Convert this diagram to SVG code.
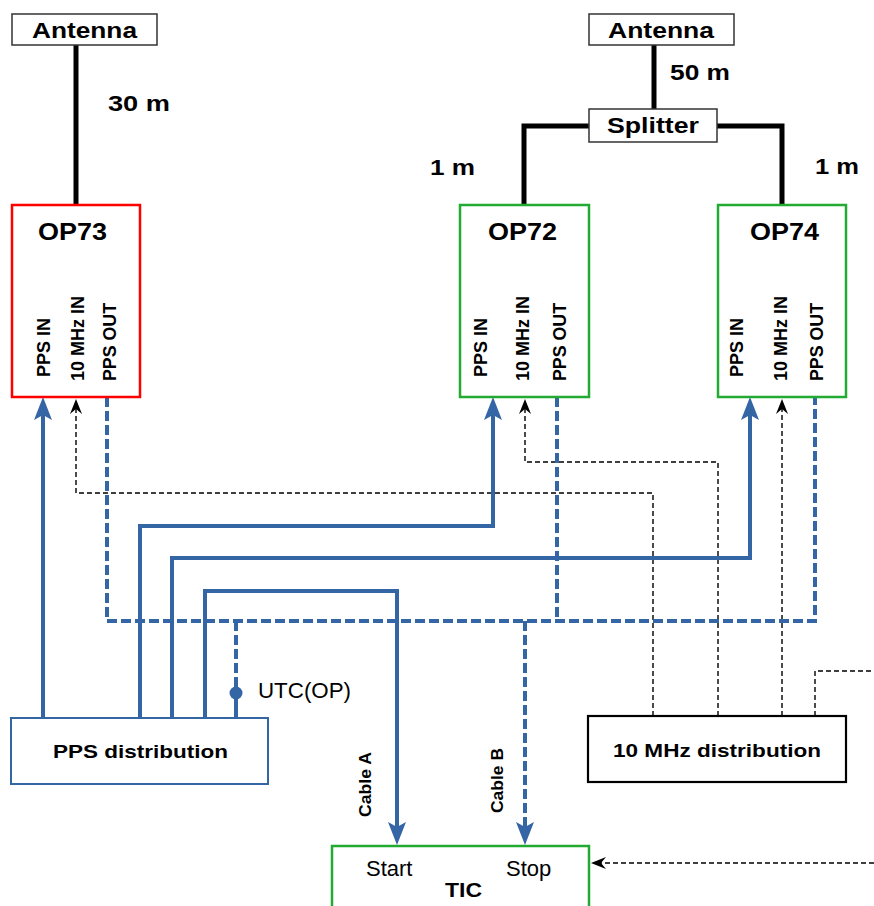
<svg xmlns="http://www.w3.org/2000/svg" width="874" height="906" viewBox="0 0 874 906">
<defs>
<style>
.t{font-family:"Liberation Sans",Arial,sans-serif;fill:#000}
.b{font-weight:bold}
.box{fill:#fff}
.cable{stroke:#000;stroke-width:5;fill:none}
.blue{stroke:#3465a4;stroke-width:4;fill:none}
.bdash{stroke:#3465a4;stroke-width:4;fill:none;stroke-dasharray:10 4}
.kdash{stroke:#000;stroke-width:1.4;fill:none;stroke-dasharray:5 3}
</style>
<marker id="ab" markerUnits="userSpaceOnUse" markerWidth="26" markerHeight="20" viewBox="-24 -10 26 20" refX="-17" refY="0" orient="auto">
<path d="M0,0 L-23,-9 L-18,0 L-23,9 Z" fill="#3465a4"/>
</marker>
<marker id="ak" markerUnits="userSpaceOnUse" markerWidth="17" markerHeight="13" viewBox="-16 -6.5 17 13" refX="-10" refY="0" orient="auto">
<path d="M0,0 L-15,-6 L-10,0 L-15,6 Z" fill="#000"/>
</marker>
</defs>

<g id="connectors">
<!-- antenna cables -->
<line class="cable" x1="76" y1="45" x2="76" y2="205"/>
<line class="cable" x1="654" y1="45" x2="654" y2="110"/>
<polyline class="cable" points="589,126 524,126 524,205"/>
<polyline class="cable" points="717,126 782,126 782,205"/>
<!-- 10 MHz dashed -->
<polyline class="kdash" points="653,716 653,493 76,493 76,409" marker-end="url(#ak)"/>
<polyline class="kdash" points="718,716 718,462 525,462 525,409" marker-end="url(#ak)"/>
<polyline class="kdash" points="782,716 782,409" marker-end="url(#ak)"/>
<polyline class="kdash" points="815,716 815,671 874,671"/>
<polyline class="kdash" points="874,863 601,863" marker-end="url(#ak)"/>
<!-- PPS out dashed -->
<polyline class="bdash" points="107,397 107,621 815,621 815,397"/>
<line class="bdash" x1="557" y1="397" x2="557" y2="621"/>
<polyline class="bdash" points="236,621 236,693"/>
<line class="blue" x1="236" y1="693" x2="236" y2="718"/>
<circle cx="236" cy="693" r="6.5" fill="#3465a4"/>
<line class="bdash" x1="525" y1="621" x2="525" y2="828" marker-end="url(#ab)"/>
<!-- PPS solid -->
<line class="blue" x1="43" y1="718" x2="43" y2="414" marker-end="url(#ab)"/>
<polyline class="blue" points="140,718 140,526 493,526 493,414" marker-end="url(#ab)"/>
<polyline class="blue" points="172,718 172,558 750,558 750,414" marker-end="url(#ab)"/>
<polyline class="blue" points="205,718 205,591 397,591 397,828" marker-end="url(#ab)"/>
</g>

<g id="antenna1">
<rect class="box" x="12" y="14" width="145" height="31" stroke="#333" stroke-width="1.5"/>
<text class="t b" x="32" y="38" font-size="22" textLength="105" lengthAdjust="spacingAndGlyphs">Antenna</text>
</g>
<text class="t b" x="108" y="111" font-size="22" textLength="62" lengthAdjust="spacingAndGlyphs">30 m</text>

<g id="antenna2">
<rect class="box" x="589" y="14" width="145" height="31" stroke="#333" stroke-width="1.5"/>
<text class="t b" x="608" y="38" font-size="22" textLength="106" lengthAdjust="spacingAndGlyphs">Antenna</text>
</g>
<text class="t b" x="670" y="80" font-size="22" textLength="60" lengthAdjust="spacingAndGlyphs">50 m</text>

<g id="splitter">
<rect class="box" x="589" y="109" width="128" height="33" stroke="#333" stroke-width="1.5"/>
<text class="t b" x="607" y="133" font-size="22" textLength="92" lengthAdjust="spacingAndGlyphs">Splitter</text>
</g>
<text class="t b" x="430" y="175" font-size="22" textLength="45" lengthAdjust="spacingAndGlyphs">1 m</text>
<text class="t b" x="815" y="174" font-size="22" textLength="44" lengthAdjust="spacingAndGlyphs">1 m</text>

<g id="op73">
<rect class="box" x="12" y="205" width="128" height="192" stroke="#ff0000" stroke-width="2.5"/>
<text class="t b" x="38" y="240" font-size="24" textLength="69" lengthAdjust="spacingAndGlyphs">OP73</text>
<text class="t b" font-size="18" textLength="59" lengthAdjust="spacingAndGlyphs" transform="translate(50,377) rotate(-90)">PPS IN</text>
<text class="t b" font-size="18" textLength="85" lengthAdjust="spacingAndGlyphs" transform="translate(84,381) rotate(-90)">10 MHz IN</text>
<text class="t b" font-size="18" textLength="78" lengthAdjust="spacingAndGlyphs" transform="translate(116,381) rotate(-90)">PPS OUT</text>
</g>

<g id="op72">
<rect class="box" x="460" y="205" width="129" height="192" stroke="#22aa33" stroke-width="2.5"/>
<text class="t b" x="488" y="240" font-size="24" textLength="69" lengthAdjust="spacingAndGlyphs">OP72</text>
<text class="t b" font-size="18" textLength="59" lengthAdjust="spacingAndGlyphs" transform="translate(487,377) rotate(-90)">PPS IN</text>
<text class="t b" font-size="18" textLength="85" lengthAdjust="spacingAndGlyphs" transform="translate(529,381) rotate(-90)">10 MHz IN</text>
<text class="t b" font-size="18" textLength="78" lengthAdjust="spacingAndGlyphs" transform="translate(566,381) rotate(-90)">PPS OUT</text>
</g>

<g id="op74">
<rect class="box" x="718" y="205" width="128" height="192" stroke="#22aa33" stroke-width="2.5"/>
<text class="t b" x="750" y="240" font-size="24" textLength="69" lengthAdjust="spacingAndGlyphs">OP74</text>
<text class="t b" font-size="18" textLength="59" lengthAdjust="spacingAndGlyphs" transform="translate(743,377) rotate(-90)">PPS IN</text>
<text class="t b" font-size="18" textLength="85" lengthAdjust="spacingAndGlyphs" transform="translate(787,381) rotate(-90)">10 MHz IN</text>
<text class="t b" font-size="18" textLength="78" lengthAdjust="spacingAndGlyphs" transform="translate(823,381) rotate(-90)">PPS OUT</text>
</g>

<text class="t" x="258" y="698" font-size="22" textLength="93" lengthAdjust="spacingAndGlyphs">UTC(OP)</text>

<g id="pps-distribution">
<rect class="box" x="11" y="718" width="257" height="66" stroke="#3465a4" stroke-width="2"/>
<text class="t b" x="53" y="758" font-size="19" textLength="175" lengthAdjust="spacingAndGlyphs">PPS distribution</text>
</g>

<g id="mhz-distribution">
<rect class="box" x="588" y="716" width="258" height="66" stroke="#000" stroke-width="2.2"/>
<text class="t b" x="613" y="757" font-size="19" textLength="208" lengthAdjust="spacingAndGlyphs">10 MHz distribution</text>
</g>

<text class="t b" font-size="17" textLength="65" lengthAdjust="spacingAndGlyphs" transform="translate(371,817) rotate(-90)">Cable A</text>
<text class="t b" font-size="17" textLength="65" lengthAdjust="spacingAndGlyphs" transform="translate(503,813) rotate(-90)">Cable B</text>

<g id="tic">
<rect class="box" x="332" y="846" width="257" height="70" stroke="#22aa33" stroke-width="2.5"/>
<text class="t" x="366" y="876" font-size="22">Start</text>
<text class="t" x="506" y="876" font-size="22">Stop</text>
<text class="t b" x="445" y="897" font-size="20" textLength="37" lengthAdjust="spacingAndGlyphs">TIC</text>
</g>
</svg>
